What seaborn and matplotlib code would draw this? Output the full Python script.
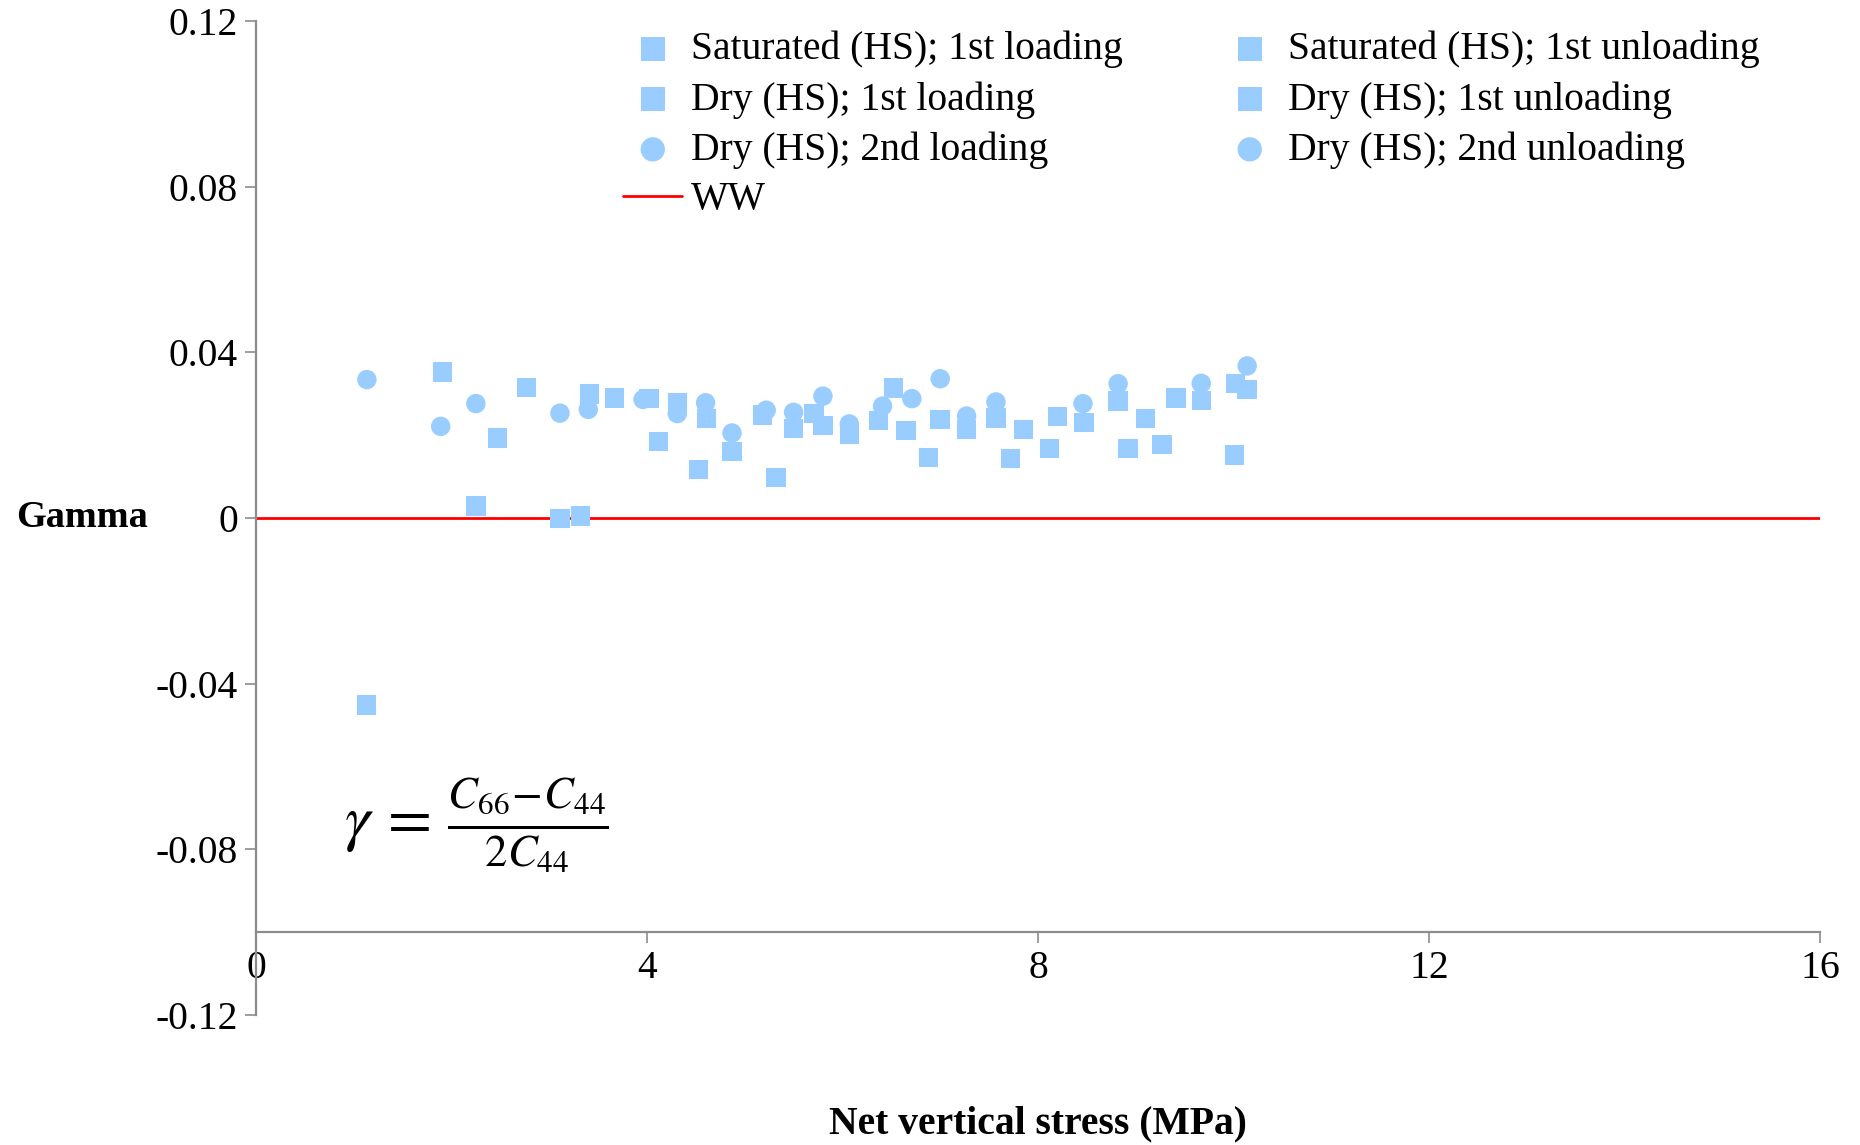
import matplotlib
matplotlib.use("Agg")
import matplotlib.pyplot as plt
import seaborn as sns
import pandas as pd

# Measured shear-anisotropy parameter versus net vertical stress
sat_load_x = [1.13, 2.25, 3.11, 3.32, 4.12, 4.53, 5.32, 6.88, 7.72, 8.92, 10.01]
sat_load_y = [-0.0452, 0.0029, -0.0002, 0.0005, 0.0185, 0.0117, 0.0097, 0.0146, 0.0144, 0.0167, 0.0152]

sat_unload_x = [2.47, 4.87, 5.80, 6.65, 7.85, 8.12, 9.10, 9.27]
sat_unload_y = [0.0193, 0.0161, 0.0223, 0.0211, 0.0213, 0.0168, 0.0240, 0.0177]

dry1_load_x = [1.91, 2.77, 3.41, 3.67, 4.02, 5.71, 6.52, 8.20, 9.41, 10.02, 10.14]
dry1_load_y = [0.0352, 0.0315, 0.0299, 0.0290, 0.0288, 0.0252, 0.0314, 0.0245, 0.0290, 0.0325, 0.0310]

dry1_unload_x = [4.31, 4.61, 5.18, 5.50, 6.07, 6.37, 7.00, 7.27, 7.57, 8.47, 8.82, 9.67]
dry1_unload_y = [0.0277, 0.0240, 0.0248, 0.0216, 0.0201, 0.0235, 0.0237, 0.0214, 0.0241, 0.0230, 0.0282, 0.0284]

dry2_load_x = [1.135, 1.89, 2.25, 3.11, 3.40, 3.96, 5.22, 5.80, 6.41, 6.71, 7.00]
dry2_load_y = [0.0334, 0.0221, 0.0276, 0.0253, 0.0262, 0.0286, 0.0260, 0.0294, 0.0270, 0.0288, 0.0336]

dry2_unload_x = [4.31, 4.60, 4.87, 5.50, 6.07, 7.27, 7.57, 8.46, 8.82, 9.67, 10.14]
dry2_unload_y = [0.0252, 0.0278, 0.0205, 0.0255, 0.0227, 0.0246, 0.0280, 0.0276, 0.0324, 0.0325, 0.0367]

ww_x = [0, 16]
ww_y = [0, 0]

x_ticks = [0, 4, 8, 12, 16]
x_tick_labels = ["0", "4", "8", "12", "16"]
y_ticks = [-0.12, -0.08, -0.04, 0, 0.04, 0.08, 0.12]
y_tick_labels = ["-0.12", "-0.08", "-0.04", "0", "0.04", "0.08", "0.12"]

sns.set_style("white")
plt.rcParams["font.family"] = ["Liberation Serif", "DejaVu Serif"]
plt.rcParams["mathtext.fontset"] = "stix"
plt.rcParams["text.color"] = "black"
plt.rcParams["axes.labelcolor"] = "black"
plt.rcParams["xtick.color"] = "black"
plt.rcParams["ytick.color"] = "black"

FS = 28.5
BLUE = "#99CCFF"
AXIS_GREY = "#8c8c8c"

fig = plt.figure(figsize=(18.6, 11.45), dpi=100)
ax = fig.add_axes([0.1376, 0.1135, 0.8409, 0.8683])

series = [
    ("Saturated (HS); 1st loading", sat_load_x, sat_load_y, "s"),
    ("Saturated (HS); 1st unloading", sat_unload_x, sat_unload_y, "s"),
    ("Dry (HS); 1st loading", dry1_load_x, dry1_load_y, "s"),
    ("Dry (HS); 1st unloading", dry1_unload_x, dry1_unload_y, "s"),
    ("Dry (HS); 2nd loading", dry2_load_x, dry2_load_y, "o"),
    ("Dry (HS); 2nd unloading", dry2_unload_x, dry2_unload_y, "o"),
]

handles = {}
for name, xs, ys, mk in series:
    df = pd.DataFrame({"stress": xs, "gamma": ys})
    sns.scatterplot(data=df, x="stress", y="gamma", marker=mk, s=196,
                    color=BLUE, edgecolor="none", linewidth=0, ax=ax,
                    label=name, legend=False, zorder=3)
    handles[name] = ax.collections[-1]

ww_df = pd.DataFrame({"stress": ww_x, "gamma": ww_y})
sns.lineplot(data=ww_df, x="stress", y="gamma", color="red", linewidth=2,
             estimator=None, ax=ax, label="WW", legend=False, zorder=2)
handles["WW"] = ax.lines[-1]

# Axis ranges, with the horizontal axis crossing at -0.1
ax.set_xlim(0, 16)
ax.set_ylim(-0.12, 0.12)
ax.spines["bottom"].set_position(("data", -0.1))
for side in ("top", "right"):
    ax.spines[side].set_visible(False)
for side in ("left", "bottom"):
    ax.spines[side].set_color(AXIS_GREY)
    ax.spines[side].set_linewidth(1.6)

ax.set_xticks(x_ticks)
ax.set_xticklabels(x_tick_labels)
ax.set_yticks(y_ticks)
ax.set_yticklabels(y_tick_labels)
ax.tick_params(axis="both", which="major", labelsize=FS, length=8, width=1.2,
               color=AXIS_GREY, labelcolor="black", direction="out", pad=5)
ax.tick_params(axis="x", bottom=True)
ax.tick_params(axis="y", left=True)

ax.set_xlabel("Net vertical stress (MPa)", fontsize=FS, fontweight="bold")
ax.xaxis.set_label_coords(0.5, -0.109)
ax.xaxis.label.set_verticalalignment("center")
ax.set_ylabel("Gamma", fontsize=27.5, fontweight="bold", rotation=0,
              ha="left", va="center")
ax.yaxis.set_label_coords(-0.1535, 0.5)

# Definition of the anisotropy parameter
ax.text(0.9, -0.0745, r"$\gamma\,=\,\frac{C_{66}\!-\!C_{44}}{2C_{44}}$",
        fontsize=46, ha="left", va="center")

order = ["Saturated (HS); 1st loading", "Dry (HS); 1st loading",
         "Dry (HS); 2nd loading", "WW",
         "Saturated (HS); 1st unloading", "Dry (HS); 1st unloading",
         "Dry (HS); 2nd unloading"]
ax.legend([handles[k] for k in order], order, ncol=2, frameon=False,
          fontsize=FS, loc="upper left", bbox_to_anchor=(0.335, 0.973),
          bbox_transform=fig.transFigure, borderpad=0, borderaxespad=0,
          handlelength=1.5, handletextpad=0.22, columnspacing=2.45,
          labelspacing=0.32, scatterpoints=1, markerscale=1.25)

fig.savefig("out.png", dpi=100, facecolor="white")
